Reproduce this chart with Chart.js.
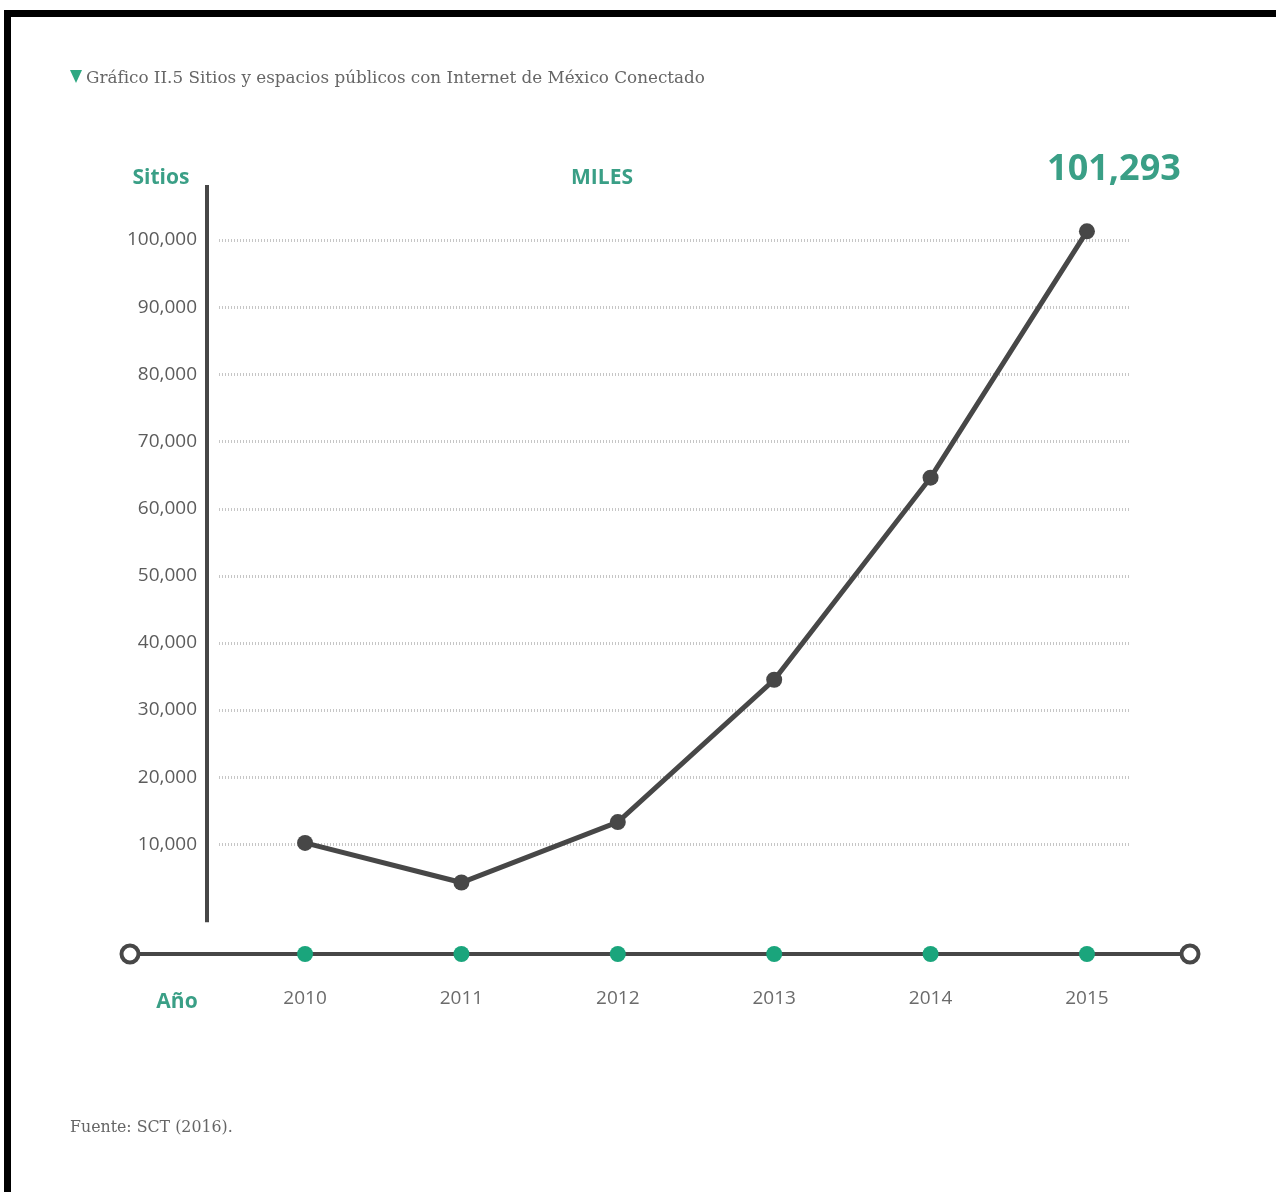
<!DOCTYPE html>
<html lang="es">
<head>
<meta charset="utf-8">
<title>Sitios y espacios públicos con Internet de México Conectado</title>
<script src="https://cdn.jsdelivr.net/npm/chart.js@4.4.1/dist/chart.umd.min.js"></script>
<style>
  html, body { margin: 0; padding: 0; background: #fff; }
  #page { position: relative; width: 1276px; height: 1192px; overflow: hidden; background: #fff; }
  #frame { position: absolute; left: 4px; top: 10px; right: -20px; bottom: -20px;
           border-top: 7px solid #000; border-left: 7px solid #000; }
  #chartBox { position: absolute; left: 0; top: 0; width: 1276px; height: 1192px; }
  #title { position: absolute; left: 70px; top: 67px; white-space: nowrap;
           font-family: "DejaVu Serif", serif; font-size: 16.8px; color: #666; }
  #title .tri { display: inline-block; width: 0; height: 0; margin-right: 4px;
                border-left: 6px solid transparent; border-right: 6px solid transparent;
                border-top: 13px solid #2ea882; vertical-align: 0px; }
  #source { position: absolute; left: 70px; top: 1117px; white-space: nowrap;
            font-family: "DejaVu Serif", serif; font-size: 15.8px; color: #666; }
</style>
</head>
<body>
<div id="page">
  <div id="chartBox"><canvas id="chart"></canvas></div>
  <div id="frame"></div>
  <div id="title"><span class="tri"></span>Gráfico II.5 Sitios y espacios públicos con Internet de México Conectado</div>
  <div id="source">Fuente: SCT (2016).</div>
</div>
<script>
// Series: public sites with Internet, by year
const YEARS = [2010, 2011, 2012, 2013, 2014, 2015];
const SITES = [10200, 4300, 13300, 34500, 64600, 101293];
const Y_TICKS = [10000, 20000, 30000, 40000, 50000, 60000, 70000, 80000, 90000, 100000];
const PEAK_LABEL = '101,293';
const Y_LABEL = 'Sitios';
const X_LABEL = 'Año';
const UNIT_LABEL = 'MILES';

// Scale extents
const X_MIN = 2009.373, X_MAX = 2015.659;
const Y_MIN = -6345, Y_MAX = 108190;

const DARK = '#474747';
const GREEN_TEXT = '#3a9f86';
const GREEN_DOT = '#1aa57c';
const SANS = '"Open Sans", sans-serif';

const fmt = v => v.toLocaleString('en-US');

const decor = {
  id: 'decor',
  beforeDatasetsDraw(chart) {
    const { ctx, chartArea: a, scales: { x, y } } = chart;
    ctx.save();
    // dotted horizontal guides
    ctx.strokeStyle = '#c6c6c6';
    ctx.lineWidth = 3;
    ctx.setLineDash([1, 2]);
    const gx0 = a.left + 12, gx1 = x.getPixelForValue(YEARS[YEARS.length - 1]) + 43;
    Y_TICKS.forEach(v => {
      const py = Math.round(y.getPixelForValue(v)) + 0.5;
      ctx.beginPath(); ctx.moveTo(gx0, py); ctx.lineTo(gx1, py); ctx.stroke();
    });
    ctx.setLineDash([]);
    // vertical axis bar
    ctx.strokeStyle = DARK;
    ctx.lineWidth = 4;
    ctx.beginPath();
    ctx.moveTo(a.left, a.top);
    ctx.lineTo(a.left, y.getPixelForValue(-1600));
    ctx.stroke();
    // horizontal time axis with open end caps
    const bx0 = a.left - 77, bx1 = a.right, by = a.bottom;
    ctx.lineWidth = 4;
    ctx.beginPath(); ctx.moveTo(bx0, by); ctx.lineTo(bx1, by); ctx.stroke();
    [bx0, bx1].forEach(cx => {
      ctx.beginPath();
      ctx.arc(cx, by, 8.5, 0, Math.PI * 2);
      ctx.fillStyle = '#fff';
      ctx.fill();
      ctx.stroke();
    });
    ctx.restore();
  },
  afterDatasetsDraw(chart) {
    const { ctx, chartArea: a, scales: { x, y } } = chart;
    ctx.save();
    ctx.fillStyle = GREEN_TEXT;
    ctx.textAlign = 'center';
    ctx.textBaseline = 'alphabetic';
    ctx.font = 'bold 21px ' + SANS;
    ctx.fillText(Y_LABEL, a.left - 46, a.top - 1);
    ctx.fillText(UNIT_LABEL, 602, a.top - 1);
    ctx.fillText(X_LABEL, a.left - 30, a.bottom + 54);
    // highlighted last value
    const last = SITES.length - 1;
    const px = x.getPixelForValue(YEARS[last]);
    ctx.font = 'bold 36px ' + SANS;
    ctx.fillText(PEAK_LABEL, px + 27, y.getPixelForValue(SITES[last]) - 51);
    ctx.restore();
  }
};

new Chart(document.getElementById('chart'), {
  type: 'line',
  data: {
    datasets: [
      {
        label: 'Sitios',
        data: YEARS.map((yr, i) => ({ x: yr, y: SITES[i] })),
        borderColor: DARK,
        backgroundColor: DARK,
        borderWidth: 5,
        pointRadius: 8,
        pointHoverRadius: 8,
        pointBackgroundColor: DARK,
        pointBorderWidth: 0,
        tension: 0,
        order: 1
      },
      {
        label: 'Año',
        data: YEARS.map(yr => ({ x: yr, y: Y_MIN })),
        showLine: false,
        pointRadius: 8,
        pointHoverRadius: 8,
        pointBackgroundColor: GREEN_DOT,
        pointBorderWidth: 0,
        clip: false,
        order: 0
      }
    ]
  },
  options: {
    responsive: true,
    maintainAspectRatio: false,
    animation: false,
    events: [],
    layout: { padding: { left: 0, right: 86, top: 185, bottom: 0 } },
    plugins: { legend: { display: false }, tooltip: { enabled: false }, title: { display: false } },
    scales: {
      x: {
        type: 'linear',
        min: X_MIN,
        max: X_MAX,
        afterFit: s => { s.height = 238; },
        afterBuildTicks: s => { s.ticks = YEARS.map(v => ({ value: v })); },
        grid: { display: false, drawTicks: false },
        border: { display: false },
        ticks: {
          padding: 33,
          color: '#6b6b6b',
          font: { family: SANS, size: 19 },
          callback: v => String(v)
        }
      },
      y: {
        type: 'linear',
        min: Y_MIN,
        max: Y_MAX,
        afterFit: s => { s.width = 207; },
        afterBuildTicks: s => { s.ticks = Y_TICKS.map(v => ({ value: v })); },
        grid: { display: false, drawTicks: false },
        border: { display: false },
        ticks: {
          padding: 10,
          color: '#5c5c5c',
          font: { family: SANS, size: 19 },
          callback: v => fmt(v)
        }
      }
    }
  },
  plugins: [decor]
});
</script>
</body>
</html>
